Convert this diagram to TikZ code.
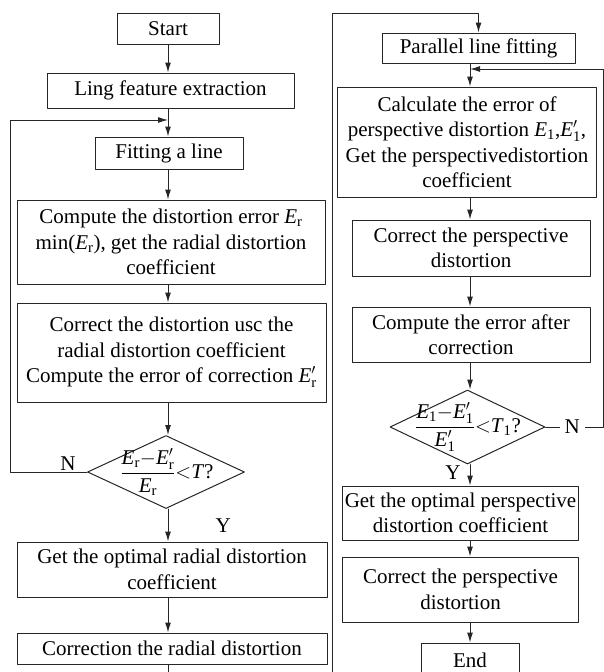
\documentclass[tikz,border=0pt]{standalone}
\usepackage{amsmath}
\usepackage{fontspec}
\setmainfont{Liberation Serif}
\usetikzlibrary{positioning,calc,shapes.geometric,arrows.meta}

\newcommand{\Er}{\textit{E}_{\text{r}}}
\newcommand{\Erp}{\textit{E}'_{\text{r}}}
\newcommand{\Eo}{\textit{E}_{\text{1}}}
\newcommand{\Eop}{\textit{E}'_{\text{1}}}

\begin{document}
\begin{tikzpicture}[x=1pt, y=-1pt, line cap=round, line join=round,
		font=\fontsize{21}{25.5}\selectfont]
	\useasboundingbox (0,0) rectangle (604,672);
	\tikzset{box/.style={rectangle, draw=black!85, line width=1pt, align=center, inner sep=0pt},
		dia/.style={diamond, draw=black!85, line width=1pt, inner sep=0pt},
		arr/.style={draw=black!85, line width=1pt, -{Latex[length=10pt,width=6pt]}},
		lbl/.style={inner sep=1pt}}
	
	% ---- columns of the arrows ----
	\coordinate (L) at (168,0);
	\coordinate (R) at (470,0);
	
	% ---- left column: radial distortion ----
	\node[box, minimum width=102, minimum height=31] (start) at (168,28.5) {Start};
	\node[box, minimum width=247, minimum height=35] (ling) at (170.5,90.5) {Ling feature extraction};
	\node[box, minimum width=148, minimum height=32] (fit) at (169,153) {Fitting a line};
	\node[box, minimum width=308, minimum height=84] (comp) at (171,242)
		{Compute the distortion error $\Er$\\ min($\Er$), get the radial distortion\\ coefficient};
	\node[box, minimum width=309, minimum height=99] (corr) at (171.5,352.5)
		{Correct the distortion usc the\\ radial distortion coefficient\\ Compute the error of correction $\Erp$};
	\node[dia, minimum width=157, minimum height=73] (d1) at (166,472) {};
	\node (q1) at (167,472) {$\dfrac{\Er{-}\Erp}{\Er}$$<$\textit{T}?};
	\node[box, minimum width=310, minimum height=55] (gop) at (172,569.5)
		{Get the optimal radial distortion\\ coefficient};
	\node[box, minimum width=310, minimum height=31] (crad) at (172,648.5) {Correction the radial distortion};
	
	% ---- right column: perspective distortion ----
	\node[box, minimum width=193, minimum height=30] (par) at (478.5,48) {Parallel line fitting};
	\node[box, minimum width=259, minimum height=110] (calc) at (467,142)
		{Calculate the error of\\ perspective distortion $\Eo$,$\Eop$,\\ Get the perspectivedistortion\\ coefficient};
	\node[box, minimum width=238, minimum height=56] (cper) at (471,248) {Correct the perspective\\ distortion};
	\node[box, minimum width=238, minimum height=55] (cerr) at (471,334.5) {Compute the error after\\ correction};
	\node[dia, minimum width=155, minimum height=74] (d2) at (467.5,427) {};
	\node (q2) at (468,427) {$\dfrac{\Eo{-}\Eop}{\Eop}$$<$\textit{T}$_{\text{1}}$?};
	\node[box, minimum width=236, minimum height=54] (gopt) at (460.5,513)
		{Get the optimal perspective\\ distortion coefficient};
	\node[box, minimum width=236, minimum height=65] (cper2) at (460.5,589.5) {Correct the perspective\\ distortion};
	\node[box, minimum width=98, minimum height=34] (end) at (470,660) {End};
	
	% ---- arrows, left ----
	\draw[arr] (start.south -| L) -- (ling.north -| L);
	\draw[arr] (ling.south -| L) -- (fit.north -| L);
	\draw[arr] (fit.south -| L) -- (comp.north -| L);
	\draw[arr] (comp.south -| L) -- (corr.north -| L);
	\draw[arr] (corr.south -| L) -- (d1.north -| L);
	\draw[arr] (d1.south -| L) -- node[lbl, pos=0.5, right=46pt] {Y} (gop.north -| L);
	\draw[arr] (gop.south -| L) -- (crad.north -| L);
	
	% ---- loop back, left ----
	\coordinate (lloop) at (10,120);
	\draw[arr] (d1.west) -| node[lbl, pos=0.123, above] {N} (lloop) -- (lloop -| L);
	
	% ---- from the left column to the right one ----
	\coordinate (low) at (168,690);
	\coordinate (mid) at (332,13);
	\draw[arr] (crad.south -| L) -- (low) -| (mid) -| (par.north);
	
	% ---- arrows, right ----
	\draw[arr] (par.south -| R) -- (calc.north -| R);
	\draw[arr] (calc.south -| R) -- (cper.north -| R);
	\draw[arr] (cper.south -| R) -- (cerr.north -| R);
	\draw[arr] (cerr.south -| R) -- (d2.north -| R);
	\draw[arr] (d2.south -| R) -- node[lbl, pos=0.4, left=8pt] {Y} (gopt.north -| R);
	\draw[arr] (gopt.south -| R) -- (cper2.north -| R);
	\draw[arr] (cper2.south -| R) -- (end.north -| R);
	
	% ---- loop back, right ----
	\coordinate (rloop) at (603,69);
	\draw[arr] (d2.east) -| node[pos=0.233, fill=white, inner sep=5pt] {N} (rloop) -- (rloop -| R);
\end{tikzpicture}
\end{document}
